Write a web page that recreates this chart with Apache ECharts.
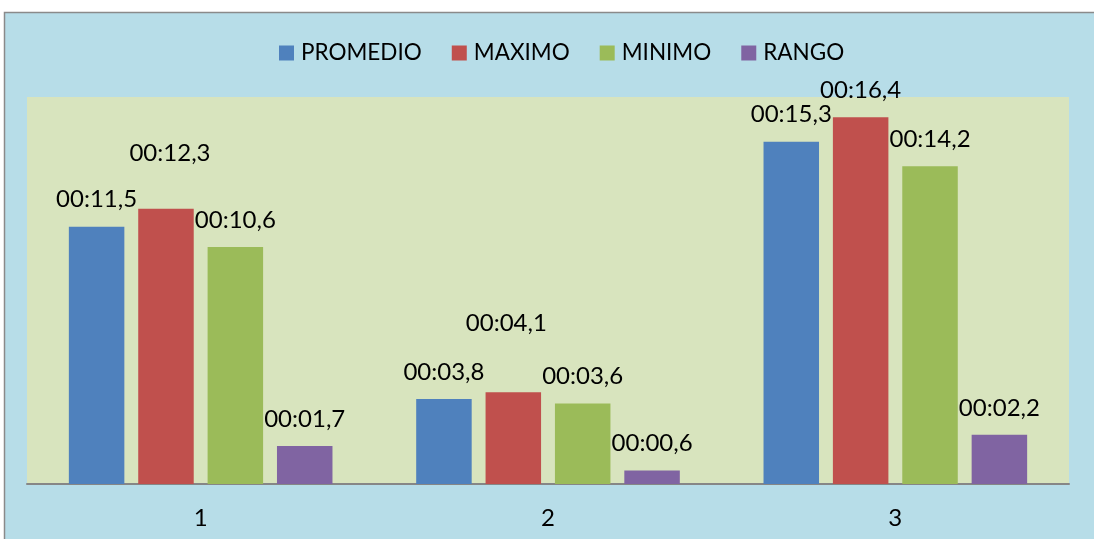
<!DOCTYPE html>
<html>
<head>
<meta charset="utf-8">
<script src="https://cdn.jsdelivr.net/npm/echarts@6/dist/echarts.min.js"></script>
<style>
  html, body { margin: 0; padding: 0; background: #ffffff; }
  #chart { width: 1094px; height: 539px; }
</style>
</head>
<body>
<div id="chart"></div>
<script>
// Times in seconds (shown as mm:ss,d)
const categories = ['1', '2', '3'];
const seriesNames = ['PROMEDIO', 'MAXIMO', 'MINIMO', 'RANGO'];
const promedio = [11.5, 3.8, 15.3];
const maximo = [12.3, 4.1, 16.4];
const minimo = [10.6, 3.6, 14.2];
const rango = [1.7, 0.6, 2.2];

const colors = ['#4F81BD', '#C0504D', '#9BBB59', '#8064A2'];
const FONT = 'Lato, "Liberation Sans", sans-serif';

function fmtTime(v) {
  const s = v.toFixed(1).replace('.', ',');
  return '00:' + (v < 10 ? '0' : '') + s;
}

// Label nudges for the MAXIMO column so they clear neighbouring labels
const maxLabelShift = [[4, -29], [-7, -42], [0, 0]];

const allValues = [promedio, maximo, minimo, rango];
const series = allValues.map((vals, si) => ({
  name: seriesNames[si],
  type: 'bar',
  barWidth: 55.5,
  barGap: '25%',
  itemStyle: { color: colors[si] },
  label: {
    show: true,
    position: 'top',
    distance: 15,
    color: '#000',
    fontFamily: FONT,
    fontSize: 24,
    lineHeight: 24,
    formatter: p => fmtTime(p.value)
  },
  data: vals.map((v, i) => {
    if (si === 1) return { value: v, label: { offset: maxLabelShift[i] } };
    return v;
  })
}));

const chart = echarts.init(document.getElementById('chart'), null, { renderer: 'canvas' });
chart.setOption({
  animation: false,
  backgroundColor: '#ffffff',
  graphic: [{
    type: 'rect',
    z: -10,
    silent: true,
    shape: { x: 4.5, y: 12.5, width: 1200, height: 600 },
    style: { fill: '#B7DDE8', stroke: '#8a8a8a', lineWidth: 1.5 }
  }],
  legend: {
    left: 279,
    top: 41,
    padding: 0,
    itemWidth: 15,
    itemHeight: 15,
    itemGap: 30,
    icon: 'rect',
    textStyle: { color: '#000', fontFamily: FONT, fontSize: 22.5, lineHeight: 24, padding: [0, 0, 0, 2] },
    data: seriesNames
  },
  grid: {
    left: 27,
    right: 25,
    top: 97,
    bottom: 55,
    show: true,
    backgroundColor: '#D8E4BE',
    borderWidth: 0
  },
  xAxis: {
    type: 'category',
    data: categories,
    axisLine: { show: true, lineStyle: { color: '#868686', width: 2 } },
    axisTick: { show: false },
    axisLabel: { color: '#000', fontFamily: FONT, fontSize: 24, lineHeight: 24, margin: 22 }
  },
  yAxis: {
    type: 'value',
    min: 0,
    max: 17.3,
    show: false,
    splitLine: { show: false }
  },
  series: series
});
</script>
</body>
</html>
